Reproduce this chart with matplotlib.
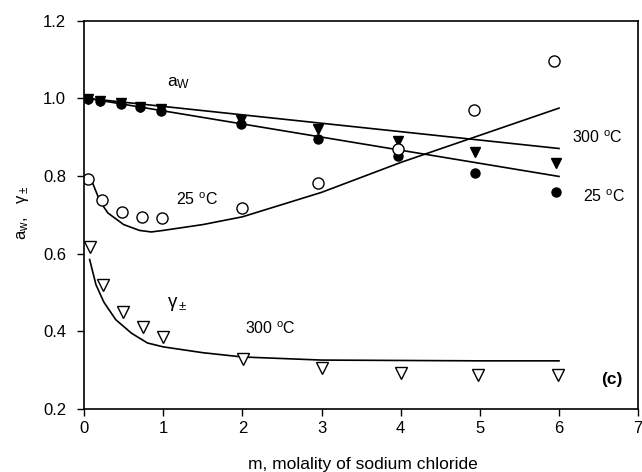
import numpy as np
import matplotlib
matplotlib.use('Agg')
from matplotlib import pyplot as plt

plt.rcParams['font.family'] = ['Liberation Sans', 'DejaVu Sans']
plt.rcParams['mathtext.fontset'] = 'custom'
plt.rcParams['mathtext.rm'] = 'Liberation Sans'
plt.rcParams['mathtext.it'] = 'Liberation Sans'
plt.rcParams['mathtext.sf'] = 'Liberation Sans'

# measured points, m = molality of NaCl
m_pts = [0.05, 0.2, 0.46, 0.71, 0.97, 1.98, 2.96, 3.96, 4.94, 5.96]
aw_25 = [0.998, 0.994, 0.986, 0.978, 0.968, 0.933, 0.895, 0.852, 0.807, 0.759]
aw_300 = [0.998, 0.994, 0.987, 0.979, 0.972, 0.944, 0.92, 0.89, 0.863, 0.833]
m_g25 = [0.055, 0.22, 0.48, 0.73, 0.99, 1.99, 2.96, 3.96, 4.93, 5.94]
g_25 = [0.792, 0.739, 0.708, 0.694, 0.691, 0.719, 0.781, 0.870, 0.970, 1.097]
m_g300 = [0.08, 0.24, 0.49, 0.75, 1.0, 2.01, 3.01, 4.01, 4.98, 5.99]
g_300 = [0.617, 0.520, 0.450, 0.411, 0.385, 0.329, 0.305, 0.293, 0.288, 0.288]

# model curves
m_aw = [0.05, 6.0]
aw_25_fit = [1.0, 0.799]
aw_300_fit = [1.0, 0.871]
m_g25_fit = [0.1, 0.2, 0.3, 0.5, 0.7, 0.85, 1.0, 1.5, 2.0, 3.0, 4.0, 5.0, 6.0]
g_25_fit = [0.786, 0.735, 0.705, 0.675, 0.66, 0.656, 0.66, 0.675, 0.695, 0.758, 0.835, 0.905, 0.975]
m_g300_fit = [0.07, 0.15, 0.25, 0.4, 0.6, 0.8, 1.0, 1.5, 2.0, 3.0, 4.0, 5.0, 6.0]
g_300_fit = [0.585, 0.52, 0.475, 0.43, 0.395, 0.37, 0.36, 0.345, 0.334, 0.326, 0.325, 0.324, 0.324]

fig = plt.figure(figsize=(6.42, 4.72), dpi=100)
ax = fig.add_axes([0.131, 0.1335, 0.863, 0.8225])

lw = 1.2
ax.plot(m_aw, aw_300_fit, 'k-', lw=lw)
ax.plot(m_aw, aw_25_fit, 'k-', lw=lw)
ax.plot(m_g25_fit, g_25_fit, 'k-', lw=lw)
ax.plot(m_g300_fit, g_300_fit, 'k-', lw=lw)

ax.plot(m_pts, aw_300, 'kv', ms=6.5, ls='none')
ax.plot(m_pts, aw_25, 'ko', ms=6.5, ls='none')
ax.plot(m_g25, g_25, 'o', ms=8, mfc='white', mec='k', mew=1.0, ls='none')
ax.plot(m_g300, g_300, 'v', ms=8, mfc='white', mec='k', mew=1.0, ls='none')

fs = 11.5
ax.text(1.05, 1.03, r'a$_\mathrm{W}$', fontsize=fs + 1)
ax.text(1.43, 0.738, r'25 $^\mathrm{o}$C', fontsize=fs, ha='center', va='center')
ax.text(6.16, 0.90, r'300 $^\mathrm{o}$C', fontsize=fs, ha='left', va='center')
ax.text(6.3, 0.747, r'25 $^\mathrm{o}$C', fontsize=fs, ha='left', va='center')
ax.text(1.05, 0.47, r'$\gamma_\pm$', fontsize=fs + 2, ha='left', va='center')
ax.text(2.35, 0.406, r'300 $^\mathrm{o}$C', fontsize=fs, ha='center', va='center')
ax.text(6.67, 0.275, '(c)', fontsize=fs + 1, ha='center', va='center', fontweight='bold')

ax.set_xlim(0, 7)
ax.set_ylim(0.2, 1.2)
ax.set_xticks(range(0, 8))
ax.set_yticks([0.2, 0.4, 0.6, 0.8, 1.0, 1.2])
ax.set_yticklabels(['0.2', '0.4', '0.6', '0.8', '1.0', '1.2'])
ax.tick_params(direction='out', length=5, width=1, labelsize=12)
ax.tick_params(axis='y', pad=8)
for s in ax.spines.values():
    s.set_linewidth(1.2)

ax.set_xlabel('m, molality of sodium chloride', fontsize=12.5, va='center')
ax.set_ylabel(r'a$_\mathrm{w}$,   $\gamma_\pm$', fontsize=12, va='center')
ax.xaxis.set_label_coords(0.504, -0.142)
ax.yaxis.set_label_coords(-0.11, 0.505)

fig.savefig('out.png', dpi=100)
